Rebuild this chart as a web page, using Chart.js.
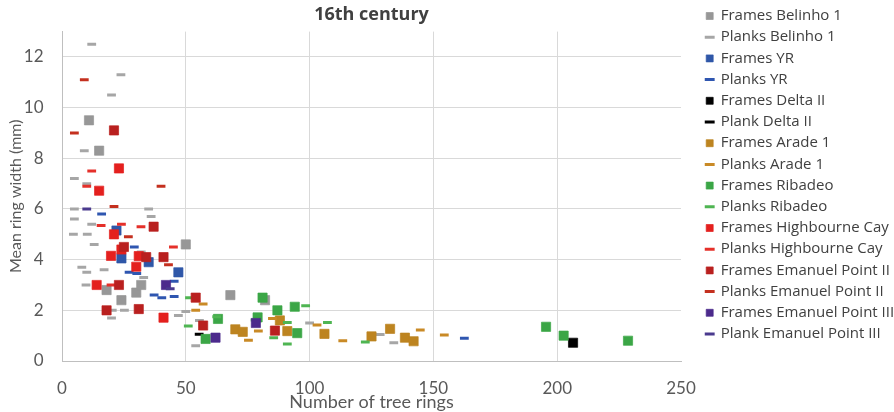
<!DOCTYPE html>
<html lang="en">
<head>
    <meta charset="UTF-8">
    <title>16th century</title>
    <script src="https://cdn.jsdelivr.net/npm/chart.js"></script>
    <style>
        html, body { margin: 0; padding: 0; background: #ffffff; }
        #wrap { width: 894px; height: 412px; position: relative; }
    </style>
</head>
<body>
    <div id="wrap"><canvas id="ringChart"></canvas></div>

    <script>
        // [number of tree rings, mean ring width (mm)]
        const framesBelinho1 = [[10.9, 9.5], [15, 8.3], [18, 2.8], [24, 2.4], [30, 2.7], [32, 3.0], [50, 4.6], [68, 2.6], [82, 2.4]];
        const planksBelinho1 = [[12, 12.5], [23.8, 11.3], [20, 10.5], [9, 8.3], [5, 7.2], [10, 7.0], [5, 6.0], [5, 5.6], [12, 5.4], [4.6, 5.0],
            [10.2, 5.0], [13, 4.6], [35, 6.0], [36, 5.7], [8, 3.7], [10, 3.5], [17, 3.6], [9.7, 3.0], [33, 3.3], [32, 4.3],
            [20.3, 2.0], [25.2, 2.0], [20, 1.7], [47, 1.8], [50, 1.95], [54, 0.6], [55.5, 1.6], [100, 1.5], [128.5, 1.05], [134, 0.72]];
        const framesYR = [[22, 5.15], [24, 4.05], [35, 3.9], [47, 3.5]];
        const planksYR = [[16, 5.8], [29.2, 4.5], [27.1, 3.5], [30.2, 3.45], [37.2, 2.6], [40.3, 2.5], [45.3, 3.15], [45.3, 2.55], [162.5, 0.9]];
        const framesDelta2 = [[206.4, 0.72]];
        const plankDelta2 = [[55.4, 1.06]];
        const framesArade1 = [[70, 1.25], [73, 1.15], [88, 1.6], [91, 1.18], [106, 1.07], [125, 0.97], [132.5, 1.27], [138.5, 0.92], [142, 0.78]];
        const planksArade1 = [[57, 2.25], [54, 2.0], [75.3, 0.82], [79.3, 1.18], [85, 1.68], [103, 1.42], [113.4, 0.8], [144.7, 1.22], [154.4, 1.03]];
        const framesRibadeo = [[58, 0.87], [63, 1.66], [79, 1.72], [81, 2.5], [87, 2.0], [94, 2.14], [95, 1.1], [195.5, 1.35], [202.6, 1.0], [228.6, 0.8]];
        const planksRibadeo = [[51.5, 2.5], [51, 1.38], [62.5, 1.75], [78, 1.62], [85.5, 0.92], [91, 1.52], [91, 0.67], [98.4, 2.18], [107.2, 1.52], [122.5, 0.75]];
        const framesHighbourne = [[23, 7.6], [15, 6.72], [21, 5.0], [19.8, 4.15], [24, 4.4], [30, 3.72], [31, 4.14], [14, 3.0], [41, 1.71]];
        const planksHighbourne = [[12, 7.5], [24, 5.4], [15.8, 5.35], [31.9, 5.3], [45, 4.5], [19.8, 3.0], [10, 6.9]];
        const framesEmanuel2 = [[21, 9.1], [25, 4.5], [23, 3.0], [18, 2.0], [31, 2.05], [37, 5.3], [41, 4.1], [34, 4.1], [54, 2.5], [57, 1.4], [86, 1.2]];
        const planksEmanuel2 = [[5, 9.0], [9, 11.1], [40, 6.9], [21, 6.1], [26.8, 4.9], [43, 3.8]];
        const framesEmanuel3 = [[42, 3.0], [62, 0.92], [78.3, 1.5]];
        const plankEmanuel3 = [[10, 6.0], [43.7, 2.85]];

        const xTicks = [0, 50, 100, 150, 200, 250];
        const yTicks = [0, 2, 4, 6, 8, 10, 12];

        // name, points, frame or plank, fill colour
        const series = [
            ['Frames Belinho 1', framesBelinho1, 'frame', '#979797'],
            ['Planks Belinho 1', planksBelinho1, 'plank', '#a6a6a6'],
            ['Frames YR', framesYR, 'frame', '#2f57a8'],
            ['Planks YR', planksYR, 'plank', '#2f56b0'],
            ['Frames Delta II', framesDelta2, 'frame', '#000000'],
            ['Plank Delta II', plankDelta2, 'plank', '#000000'],
            ['Frames Arade 1', framesArade1, 'frame', '#bd8420'],
            ['Planks Arade 1', planksArade1, 'plank', '#c98a26'],
            ['Frames Ribadeo', framesRibadeo, 'frame', '#3ba646'],
            ['Planks Ribadeo', planksRibadeo, 'plank', '#4fb552'],
            ['Frames Highbourne Cay', framesHighbourne, 'frame', '#e4201e'],
            ['Planks Highbourne Cay', planksHighbourne, 'plank', '#e5302a'],
            ['Frames Emanuel Point II', framesEmanuel2, 'frame', '#b9201f'],
            ['Planks Emanuel Point II', planksEmanuel2, 'plank', '#c4301f'],
            ['Frames Emanuel Point III', framesEmanuel3, 'frame', '#4c2a8c'],
            ['Plank Emanuel Point III', plankEmanuel3, 'plank', '#4a3a8e']
        ];

        const datasets = series.map(function (s, i) {
            const isFrame = s[2] === 'frame';
            return {
                label: s[0],
                data: s[1].map(p => ({x: p[0], y: p[1]})),
                pointStyle: isFrame ? 'rect' : 'line',
                pointRadius: isFrame ? 6.5 : 4.4,
                backgroundColor: s[3],
                borderColor: isFrame ? s[3] + 'b0' : s[3],
                borderWidth: isFrame ? 1 : 3,
                order: series.length - i   // later series on top, like the original
            };
        });

        const textGrey = '#595959';
        const plotRight = 681;   // where the plot area should end
        const legendWidth = 194;

        new Chart(document.getElementById('ringChart'), {
            type: 'scatter',
            data: {datasets: datasets},
            options: {
                responsive: true,
                maintainAspectRatio: false,
                animation: false,
                layout: {padding: {top: 2.3}},
                plugins: {
                    tooltip: {enabled: false},
                    title: {
                        display: true,
                        text: '16th century',
                        fullSize: false,
                        color: '#404040',
                        font: {family: 'Open Sans', size: 18, weight: 'bold'},
                        padding: {top: 1.7, bottom: 6}
                    },
                    legend: {
                        position: 'right',
                        align: 'start',
                        maxWidth: legendWidth,
                        labels: {
                            usePointStyle: true,
                            boxWidth: 7,
                            boxHeight: 7,
                            padding: 6.2,
                            color: '#404040',
                            font: {family: 'Open Sans', size: 15},
                            sort: (a, b) => a.datasetIndex - b.datasetIndex
                        }
                    }
                },
                scales: {
                    x: {
                        type: 'linear',
                        min: 0,
                        max: 250,
                        afterBuildTicks: axis => { axis.ticks = xTicks.map(v => ({value: v})); },
                        afterFit: axis => { axis.height = 51; },
                        grid: {
                            color: ctx => (ctx.tick && ctx.tick.value === 250) ? 'rgba(0,0,0,0)' : '#d9d9d9',
                            drawTicks: false
                        },
                        border: {color: '#bfbfbf'},
                        ticks: {
                            padding: 19,
                            color: textGrey,
                            font: {family: 'Lato', size: 17, lineHeight: 1}
                        },
                        title: {
                            display: true,
                            text: 'Number of tree rings',
                            color: textGrey,
                            font: {family: 'Lato', size: 18, lineHeight: 1},
                            padding: {top: 0, bottom: 1}
                        }
                    },
                    y: {
                        min: 0,
                        max: 13,
                        afterBuildTicks: axis => { axis.ticks = yTicks.map(v => ({value: v})); },
                        afterFit: axis => { axis.width = 62; },
                        grid: {color: '#d9d9d9', drawTicks: false},
                        border: {color: '#bfbfbf'},
                        ticks: {
                            padding: 18.5,
                            color: textGrey,
                            font: {family: 'Lato', size: 17}
                        },
                        title: {
                            display: true,
                            text: 'Mean ring width (mm)',
                            color: textGrey,
                            font: {family: 'Lato', size: 16},
                            padding: {top: 6.4, bottom: 0}
                        }
                    },
                    // empty spacer between plot area and legend
                    gap: {
                        type: 'linear',
                        position: 'right',
                        display: true,
                        grid: {display: false},
                        border: {display: false},
                        ticks: {display: false},
                        afterFit: axis => {
                            const lg = axis.chart.legend;
                            const w = lg && lg.width ? lg.width : legendWidth;
                            axis.width = Math.max(0, 894 - w - plotRight);
                        }
                    }
                }
            }
        });
    </script>
</body>
</html>
